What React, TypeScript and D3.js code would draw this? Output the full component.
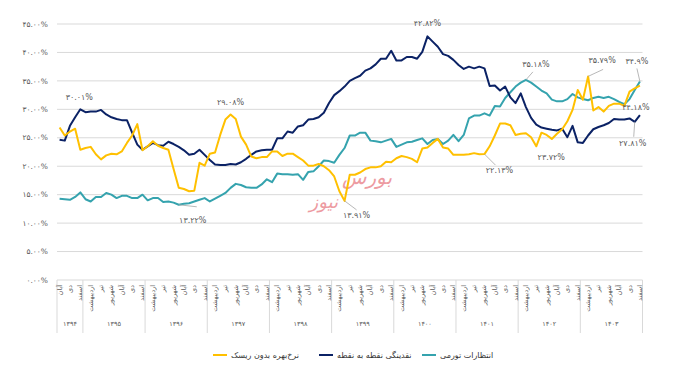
import * as d3 from "d3";

const years = ["1394", "1395", "1396", "1397", "1398", "1399", "1400", "1401", "1402", "1403"];
const monthNames = ["فروردین", "اردیبهشت", "خرداد", "تیر", "مرداد", "شهریور", "مهر", "آبان", "آذر", "دی", "بهمن", "اسفند"];
const firstMonth = 7; // داده‌ها از آبان ۱۳۹۴ شروع می‌شوند

const yTicks = [0, 5, 10, 15, 20, 25, 30, 35, 40, 45];

// نقدینگی نقطه به نقطه
const liquidity = [
  24.65, 24.5, 27.1, 28.6, 30.01, 29.5, 29.6, 29.6, 29.9, 29.1, 28.6, 28.3, 28.1, 28.1, 25.9, 23.8, 22.9, 23.5, 24.1, 23.7,
  23.6, 24.3, 23.9, 23.4, 22.8, 22.0, 22.2, 22.9, 22.0, 21.1, 20.3, 20.2, 20.2, 20.4, 20.3, 20.7, 21.3, 22.0, 22.6, 22.8,
  22.9, 22.9, 24.9, 24.9, 26.1, 25.9, 27.0, 27.2, 28.2, 28.3, 28.6, 29.4, 31.1, 32.5, 33.2, 34.0, 35.0, 35.5, 35.9, 36.8,
  37.2, 37.9, 38.9, 38.9, 40.3, 38.6, 38.6, 39.2, 39.2, 38.9, 40.1, 42.82, 41.9, 41.0, 39.7, 39.4, 38.7, 37.8, 37.1, 37.5,
  37.2, 37.5, 37.2, 34.1, 34.2, 33.3, 34.0, 32.1, 31.1, 32.8, 30.4, 28.5, 27.3, 26.8, 26.6, 26.4, 26.3, 26.6, 25.1, 27.1,
  24.2, 24.1, 25.4, 26.5, 26.9, 27.2, 27.6, 28.3, 28.2, 28.2, 28.4, 27.81, 29.0,
];

// انتظارات تورمی
const inflationExp = [
  14.3, 14.2, 14.1, 14.6, 15.4, 14.2, 13.8, 14.6, 14.6, 15.3, 15.0, 14.4, 14.8, 14.8, 14.4, 14.4, 15.0, 14.0, 14.4, 14.4,
  13.7, 13.8, 13.6, 13.22, 13.4, 13.5, 13.8, 14.1, 14.4, 13.8, 14.3, 14.8, 15.3, 16.2, 16.9, 16.7, 16.3, 16.2, 16.2, 16.8,
  17.7, 17.2, 18.7, 18.6, 18.6, 18.5, 18.6, 17.6, 19.0, 19.1, 20.0, 21.0, 20.9, 20.6, 22.0, 23.2, 25.4, 25.4, 25.9, 25.9,
  24.5, 24.4, 24.2, 24.5, 24.8, 23.4, 23.8, 24.2, 24.3, 24.6, 24.9, 23.9, 24.6, 24.8, 23.9, 24.5, 25.5, 24.4, 25.5, 28.4,
  28.9, 28.9, 29.3, 28.9, 30.6, 30.5, 32.0, 33.0, 34.0, 34.7, 35.18, 34.7, 34.0, 33.3, 32.8, 31.7, 31.4, 31.4, 31.8, 32.7,
  32.1, 31.8, 31.6, 32.0, 32.2, 32.0, 32.2, 31.8, 31.3, 30.9, 31.8, 33.4, 34.9,
];

// نرخ بهره بدون ریسک
const riskFree = [
  26.8, 25.4, 26.1, 26.6, 22.9, 23.2, 23.4, 22.1, 21.2, 21.9, 22.2, 22.1, 22.6, 24.1, 25.4, 27.4, 22.8, 23.5, 24.4, 23.6,
  23.2, 22.9, 19.5, 16.2, 16.0, 15.6, 15.7, 20.6, 20.1, 22.2, 22.4, 25.5, 28.2, 29.08, 28.3, 25.2, 23.8, 21.7, 21.4, 21.6,
  21.6, 22.6, 22.6, 21.8, 22.2, 22.2, 21.6, 21.0, 20.1, 20.1, 20.4, 20.0, 19.3, 18.2, 15.6, 13.91, 18.5, 18.5, 18.9, 19.5,
  19.8, 19.8, 20.0, 20.8, 20.7, 21.4, 21.8, 21.6, 21.3, 20.7, 23.1, 23.3, 24.1, 24.8, 23.3, 23.1, 22.0, 22.0, 22.0, 22.1,
  22.3, 22.1, 22.13, 23.5, 25.4, 27.5, 27.5, 27.2, 25.5, 25.7, 25.8, 25.1, 23.5, 25.9, 25.5, 24.8, 25.7, 26.5, 27.9, 29.9,
  33.4, 31.7, 35.79, 29.8, 30.4, 29.6, 30.6, 31.0, 31.0, 30.6, 33.1, 33.7, 34.18,
];

const seriesNames = ["انتظارات تورمی", "نقدینگی نقطه به نقطه", "نرخ‌بهره بدون ریسک"];
const seriesData = [inflationExp, liquidity, riskFree];
const colors = ["#35a3ae", "#0b2265", "#ffc000"];

// برچسب‌های داده: سری، اندیس، متن
const labelSeries = [1, 2, 0, 1, 2, 2, 0, 2, 2, 0, 2, 1];
const labelIndex = [4, 33, 23, 71, 55, 82, 90, 92, 102, 112, 112, 111];
const labelText = ["30.01%", "29.08%", "13.22%", "42.82%", "13.91%", "22.13%", "35.18%", "23.72%", "35.79%", "34.9%", "34.18%", "27.81%"];
// جابجایی برچسب و خط راهنما نسبت به نقطه
const labelOffset: [number, number][] = [[-1, -12], [0, -12], [14, 15], [0, -13], [12, 14], [15, 16], [10, -16], [15, 11], [14, -16], [-3, -20], [-4, 22], [-2, 21]];
const leaderEnd: ([number, number] | null)[] = [null, null, [18, 2], null, [12, 9], [11, 11], [7, -8], null, [15, -7], [-3, -13], null, [-1, 15]];

const fa = (s: string) => s.replace(/\d/g, (d) => "۰۱۲۳۴۵۶۷۸۹"[+d]);

const categories: { year: string; month: string }[] = [];
years.forEach((yr, yi) => {
  for (let m = yi === 0 ? firstMonth : 0; m < 12; m++) categories.push({ year: yr, month: monthNames[m] });
});

const FONT = "DejaVu Sans";
const GRAY = "#595959";

export default function App() {
  const left = 57, right = 642.5, top = 24, bottom = 280;
  const x = d3.scaleBand<number>().domain(d3.range(categories.length)).range([left, right]);
  const y = d3.scaleLinear().domain([0, 45]).range([bottom, top]);
  const px = (i: number) => (x(i) as number) + x.bandwidth() / 2;
  const line = d3.line<number>().x((_, i) => px(i)).y((d) => y(d));

  const groups = years.map((yr) => {
    const idx = categories.map((c, i) => (c.year === yr ? i : -1)).filter((i) => i >= 0);
    const x0 = x(idx[0]) as number;
    const x1 = (x(idx[idx.length - 1]) as number) + x.bandwidth();
    return { yr, x0, x1 };
  });

  const legendX = [422, 319, 213];

  return (
    <svg width={680} height={368} style={{ position: "absolute", left: 0, top: 0, background: "#fff" }} fontFamily={FONT}>
      {yTicks.map((t) => (
        <g key={t}>
          <line x1={left} x2={right} y1={y(t)} y2={y(t)} stroke="#d9d9d9" strokeWidth={1} />
          <text x={48} y={y(t)} dy="0.35em" textAnchor="end" fontSize={7.5} fill={GRAY}>
            {fa(t.toFixed(2)) + "%"}
          </text>
        </g>
      ))}

      {groups.map((g, gi) => (
        <g key={g.yr}>
          {gi === 0 && <line x1={g.x0} x2={g.x0} y1={bottom} y2={333} stroke="#d9d9d9" />}
          <line x1={g.x1} x2={g.x1} y1={bottom} y2={333} stroke="#d9d9d9" />
          <text x={(g.x0 + g.x1) / 2} y={324} dy="0.35em" textAnchor="middle" fontSize={6.5} fill={GRAY}>
            {fa(g.yr)}
          </text>
        </g>
      ))}

      {categories.map((c, i) =>
        i % 2 === 0 ? (
          <text key={i} transform={`translate(${px(i) + 2},${285}) rotate(-90)`} textAnchor="end" fontSize={6.5} fill={GRAY}>
            {c.month}
          </text>
        ) : null
      )}

      <g opacity={0.55} fill="#e04a55" fontStyle="italic">
        <text x={342} y={184} textAnchor="start" fontSize={20}>بورس</text>
        <text x={338} y={208} textAnchor="end" fontSize={18}>نیوز</text>
      </g>

      {seriesData.map((s, si) => (
        <path key={si} d={line(s) as string} fill="none" stroke={colors[si]} strokeWidth={2} strokeLinejoin="round" />
      ))}

      {labelText.map((t, k) => {
        const i = labelIndex[k];
        const p = [px(i), y(seriesData[labelSeries[k]][i])];
        const off = labelOffset[k];
        const le = leaderEnd[k];
        return (
          <g key={k}>
            {le && <line x1={p[0]} y1={p[1]} x2={p[0] + le[0]} y2={p[1] + le[1]} stroke="#a6a6a6" strokeWidth={0.8} />}
            <text x={p[0] + off[0]} y={p[1] + off[1]} dy="0.35em" textAnchor="middle" fontSize={8} fill={GRAY}>
              {fa(t)}
            </text>
          </g>
        );
      })}

      {seriesNames.map((n, si) => (
        <g key={n}>
          <line x1={legendX[si]} x2={legendX[si] + 14} y1={355} y2={355} stroke={colors[si]} strokeWidth={2} />
          <text x={legendX[si] + 18} y={355} dy="0.35em" textAnchor="start" fontSize={8} fill="#333">
            {n}
          </text>
        </g>
      ))}
    </svg>
  );
}
